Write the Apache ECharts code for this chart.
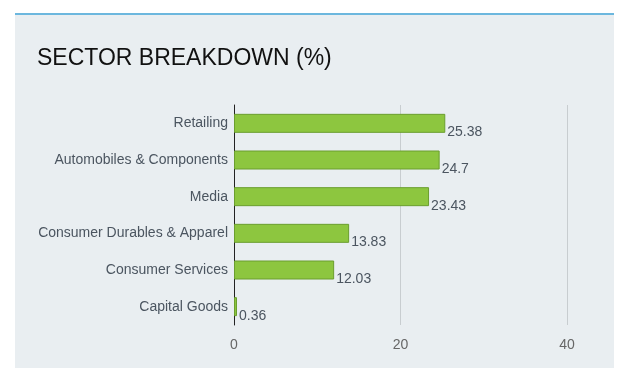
<!DOCTYPE html>
<html>
<head>
<meta charset="utf-8">
<script src="https://cdn.jsdelivr.net/npm/echarts@6/dist/echarts.min.js"></script>
<style>
html,body{margin:0;padding:0;background:#fff;}
#c{width:632px;height:385px;}
</style>
</head>
<body>
<div id="c"></div>
<script>
const categories = ["Retailing","Automobiles & Components","Media","Consumer Durables & Apparel","Consumer Services","Capital Goods"];
const values = [25.38, 24.7, 23.43, 13.83, 12.03, 0.36];
const xTicks = [0, 20, 40];

const chart = echarts.init(document.getElementById('c'));
chart.setOption({
  animation: false,
  backgroundColor: '#ffffff',
  graphic: [
    { type: 'rect', shape: { x: 15, y: 14, width: 599, height: 354 }, style: { fill: '#e9eef1' }, z: -10 },
    { type: 'rect', shape: { x: 15, y: 13, width: 599, height: 2 }, style: { fill: '#6cb7de' }, z: -9 }
  ],
  title: {
    text: 'SECTOR BREAKDOWN (%)',
    left: 32, top: 42,
    textStyle: { fontFamily: 'Liberation Sans, Arial, sans-serif', fontSize: 23, fontWeight: 'normal', color: '#111' }
  },
  grid: { left: 234, right: 65, top: 105, bottom: 60, containLabel: false },
  xAxis: {
    type: 'value', min: 0, max: 40, interval: 20,
    axisLine: { show: false },
    axisTick: { show: false },
    axisLabel: { color: '#666', fontSize: 14, fontFamily: 'Liberation Sans, Arial, sans-serif', margin: 13,
      formatter: v => xTicks.includes(v) ? String(v) : '' },
    splitLine: { show: true, lineStyle: { color: '#c8cdd0', width: 1 } }
  },
  yAxis: {
    type: 'category', data: categories, inverse: true,
    axisLine: { show: true, lineStyle: { color: '#222', width: 1 } },
    axisTick: { show: false },
    axisLabel: { color: '#4b5560', fontSize: 14, fontFamily: 'Liberation Sans, Arial, sans-serif', margin: 6 }
  },
  series: [{
    type: 'bar',
    data: values,
    barWidth: 19,
    itemStyle: { color: '#8dc63f', borderColor: '#6a9e2e', borderWidth: 1 },
    label: {
      show: true, position: 'right', distance: 2, offset: [0, 9],
      color: '#4b5560', fontSize: 14, fontFamily: 'Liberation Sans, Arial, sans-serif'
    }
  }]
});
</script>
</body>
</html>
